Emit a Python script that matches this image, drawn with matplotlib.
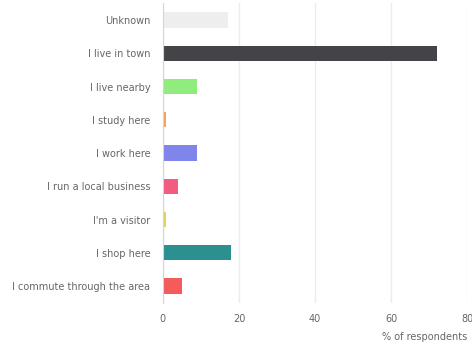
import matplotlib
matplotlib.use("Agg")
import matplotlib.pyplot as plt

categories = ["Unknown", "I live in town", "I live nearby", "I study here",
              "I work here", "I run a local business", "I'm a visitor",
              "I shop here", "I commute through the area"]
values = [17, 72, 9, 0.8, 9, 4, 0.8, 18, 5]
colors = ["#eeeeee", "#434348", "#90ed7d", "#f7a35c", "#8085e9",
          "#f15c80", "#e4d354", "#2b908f", "#f45b5b"]
xticks = [0, 20, 40, 60, 80]

fig = plt.figure(figsize=(4.72, 3.42), dpi=100)
ax = fig.add_axes([0.345, 0.115, 0.645, 0.875])

ypos = list(range(len(categories)))
ax.barh(ypos, values, height=0.46, color=colors, zorder=3)
ax.set_ylim(len(categories) - 0.5, -0.5)
ax.set_xlim(0, 80)
ax.set_yticks(ypos)
ax.set_yticklabels(categories, fontsize=7, color="#666666")
ax.set_xticks(xticks)
ax.set_xticklabels([str(t) for t in xticks], fontsize=7, color="#666666")
ax.tick_params(axis="both", length=0)
ax.tick_params(axis="y", pad=9)
ax.tick_params(axis="x", pad=8)

# light vertical grid behind the bars
ax.grid(axis="x", color="#ececec", linewidth=1, zorder=0)
for s in ["top", "right", "bottom"]:
    ax.spines[s].set_visible(False)
ax.spines["left"].set_color("#ccd6eb")
ax.spines["left"].set_zorder(4)

ax.set_xlabel("% of respondents", fontsize=7, color="#666666", loc="right",
              labelpad=6)

fig.savefig("out.png", dpi=100)
